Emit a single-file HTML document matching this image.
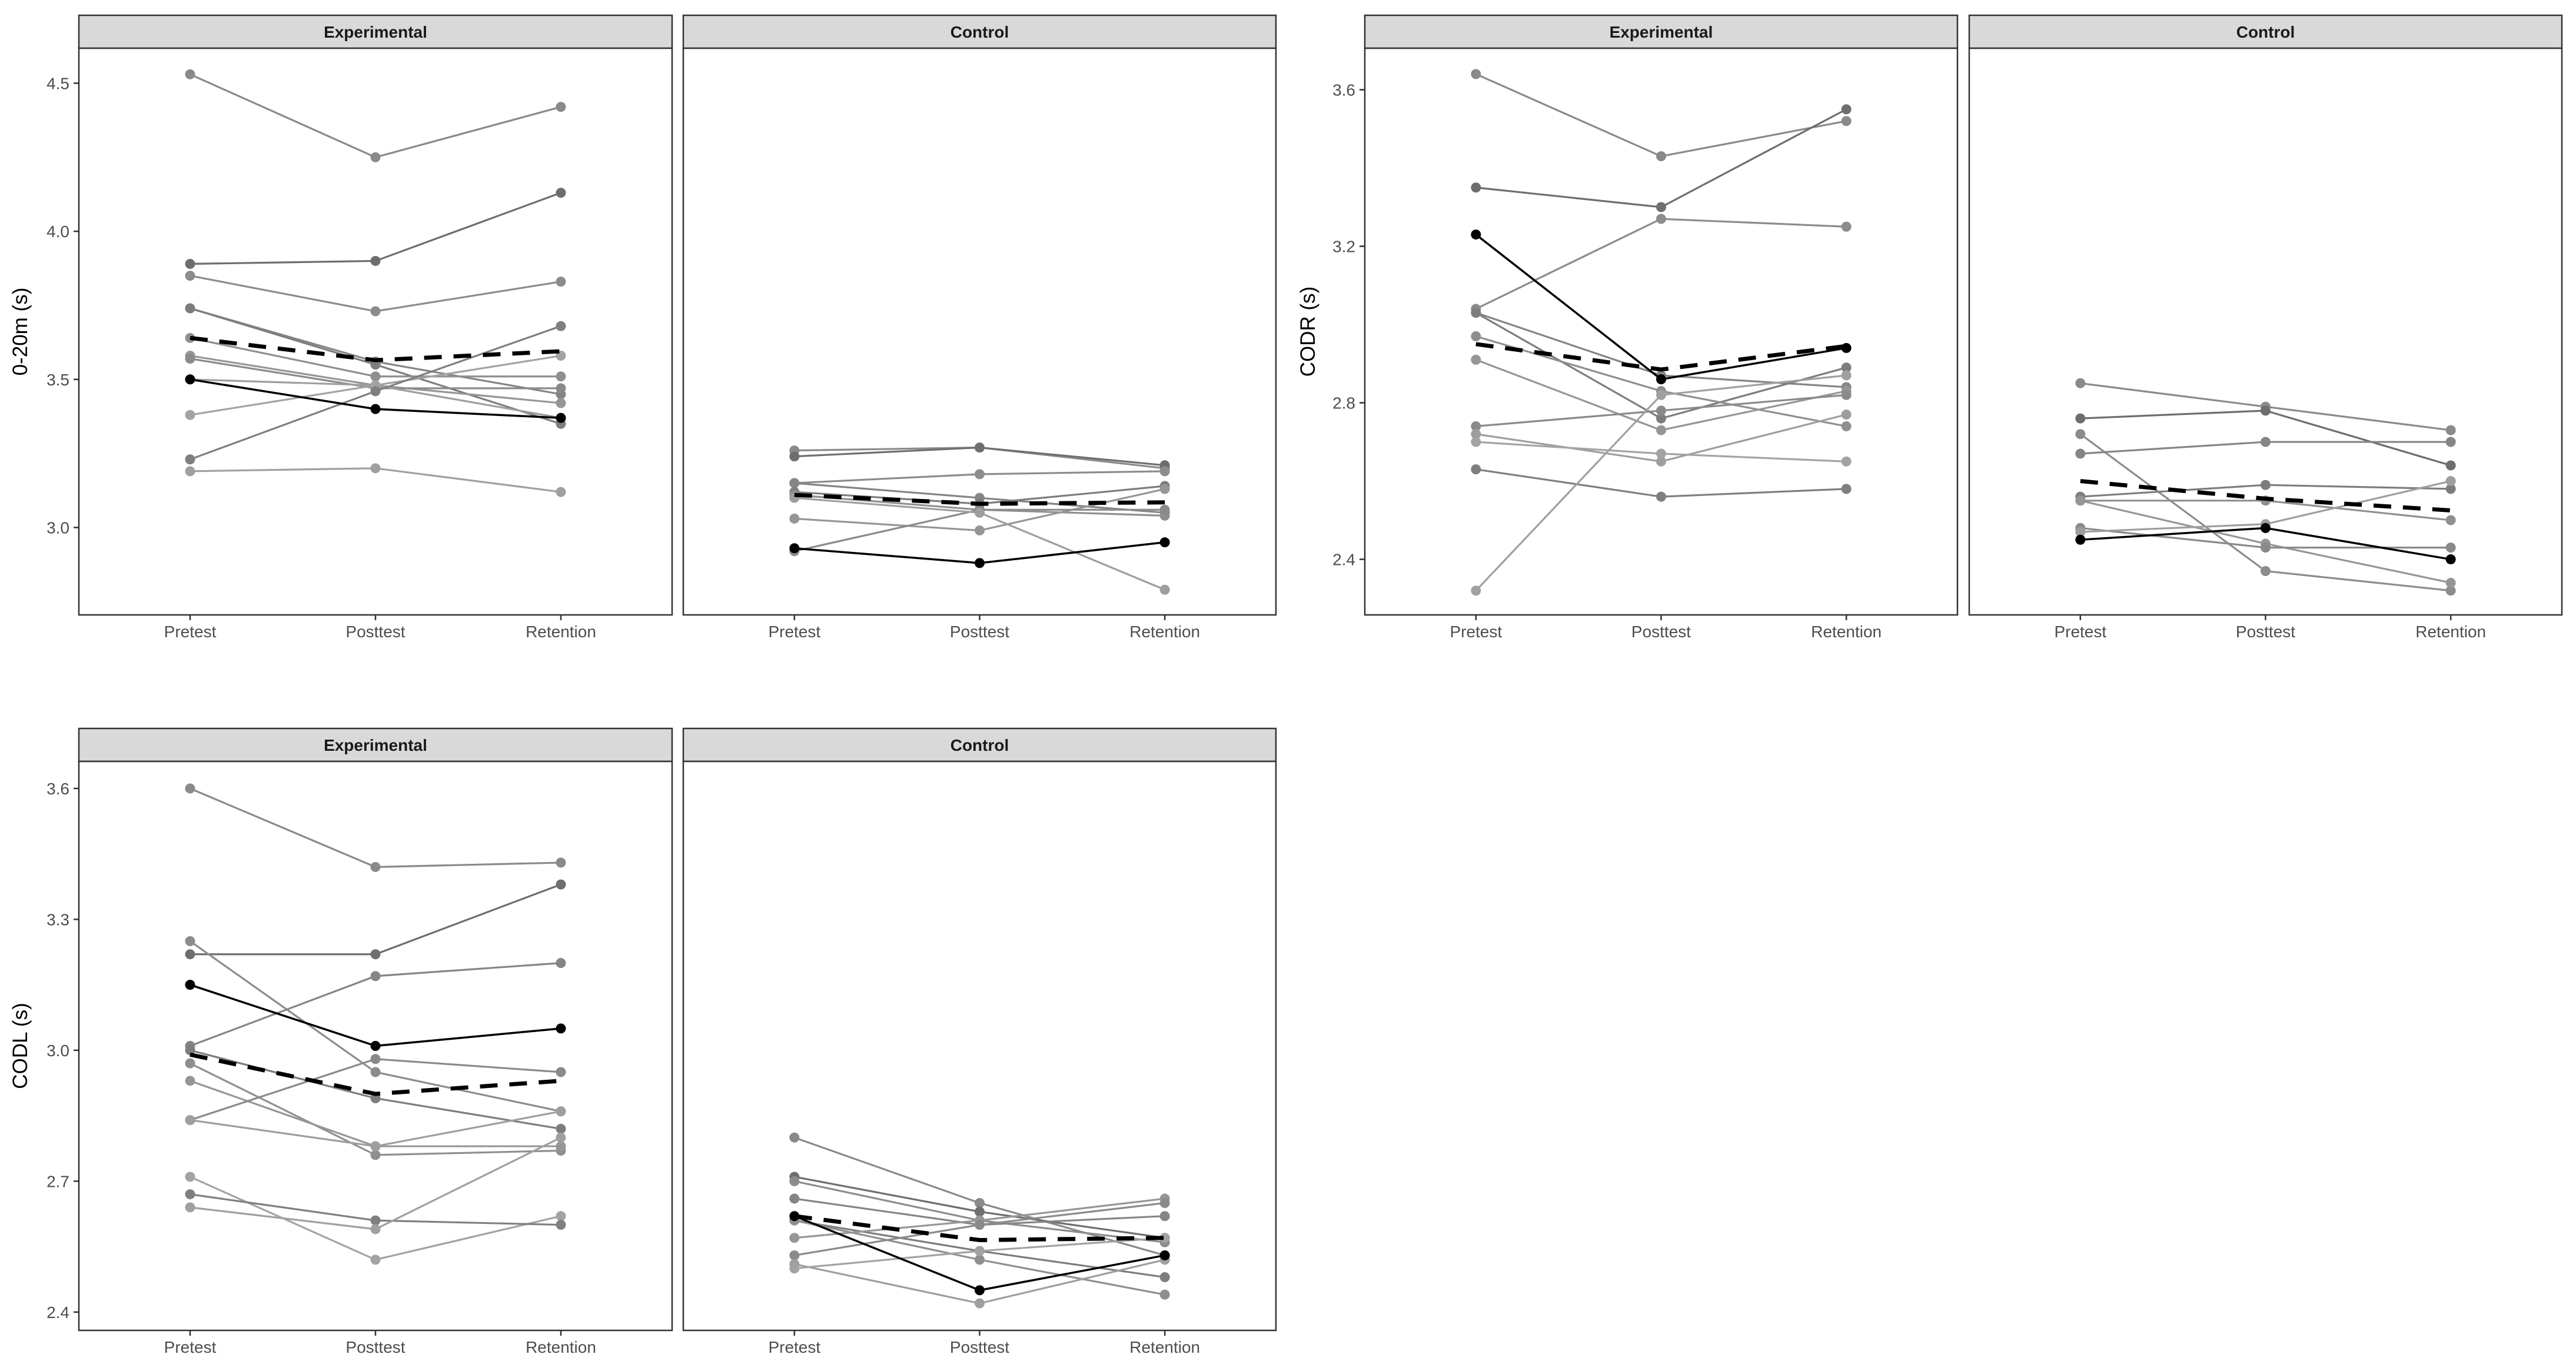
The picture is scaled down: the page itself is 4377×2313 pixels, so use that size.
<!DOCTYPE html>
<html><head><meta charset="utf-8"><style>
html,body{margin:0;padding:0;background:#fff;}
svg{display:block;font-family:"Liberation Sans",Arial,sans-serif;}
</style></head><body>
<svg id="fig" width="4377" height="2313" viewBox="0 0 4377 2313" xmlns="http://www.w3.org/2000/svg"></svg>
<script>
const categories = ["Pretest","Posttest","Retention"];
// 0-20m
const sprintExp = [[4.53,4.25,4.42],[3.89,3.90,4.13],[3.85,3.73,3.83],[3.74,3.56,3.45],[3.74,3.55,3.35],[3.64,3.51,3.51],[3.58,3.48,3.42],[3.57,3.47,3.47],[3.50,3.48,3.37],[3.38,3.48,3.58],[3.23,3.46,3.68],[3.19,3.20,3.12]];
const sprintExpHi = [3.50,3.40,3.37];
const sprintExpMean = [3.64,3.565,3.595];
const sprintCon = [[3.26,3.27,3.20],[3.24,3.27,3.21],[3.15,3.18,3.19],[3.15,3.10,3.05],[3.12,3.08,3.14],[3.11,3.06,3.04],[3.03,2.99,3.13],[2.92,3.06,3.06],[3.10,3.05,2.79]];
const sprintConHi = [2.93,2.88,2.95];
const sprintConMean = [3.11,3.08,3.085];
// CODR
const codrExp = [[3.64,3.43,3.52],[3.35,3.30,3.55],[3.04,3.27,3.25],[3.03,2.87,2.84],[3.03,2.76,2.89],[2.97,2.83,2.74],[2.91,2.73,2.83],[2.74,2.78,2.82],[2.72,2.65,2.77],[2.70,2.67,2.65],[2.63,2.56,2.58],[2.32,2.82,2.87]];
const codrExpHi = [3.23,2.86,2.94];
const codrExpMean = [2.95,2.885,2.945];
const codrCon = [[2.85,2.79,2.73],[2.76,2.78,2.64],[2.72,2.37,2.32],[2.67,2.70,2.70],[2.56,2.59,2.58],[2.55,2.55,2.50],[2.55,2.44,2.34],[2.48,2.43,2.43],[2.47,2.49,2.60]];
const codrConHi = [2.45,2.48,2.40];
const codrConMean = [2.60,2.555,2.525];
// CODL
const codlExp = [[3.60,3.42,3.43],[3.22,3.22,3.38],[3.25,2.95,2.86],[3.01,3.17,3.20],[3.00,2.89,2.82],[2.97,2.76,2.77],[2.93,2.78,2.78],[2.84,2.98,2.95],[2.84,2.78,2.86],[2.71,2.52,2.62],[2.67,2.61,2.60],[2.64,2.59,2.80]];
const codlExpHi = [3.15,3.01,3.05];
const codlExpMean = [2.99,2.90,2.93];
const codlCon = [[2.80,2.65,2.53],[2.71,2.63,2.57],[2.70,2.61,2.56],[2.66,2.60,2.62],[2.61,2.54,2.48],[2.61,2.52,2.44],[2.57,2.61,2.66],[2.53,2.60,2.65],[2.51,2.42,2.52],[2.50,2.54,2.57]];
const codlConHi = [2.62,2.45,2.53];
const codlConMean = [2.62,2.565,2.57];

const sprintTicks = [3.0,3.5,4.0,4.5];
const codrTicks = [2.4,2.8,3.2,3.6];
const codlTicks = [2.4,2.7,3.0,3.3,3.6];

const grays = ["#8a8a8a","#6e6e6e","#8c8c8c","#858585","#7d7d7d","#8f8f8f","#969696","#8a8a8a","#9e9e9e","#a3a3a3","#7f7f7f","#a0a0a0"];
const NS="http://www.w3.org/2000/svg";
const svg=document.getElementById('fig');
function mk(tag,attrs,parent){const e=document.createElementNS(NS,tag);for(const k in attrs)e.setAttribute(k,attrs[k]);(parent||svg).appendChild(e);return e;}

function facet(x0,x1,yTop,yBot,label,dom,ticks,series,hi,mean,showY,yTitle,titleX,name){
  const g=mk('g',{});
  
  
  const pTop=yTop+56;
  const strip=mk('rect',{x:x0,y:yTop,width:x1-x0,height:56,fill:'#d9d9d9',stroke:'#333',"stroke-width":2.5},g);
  
  
  const st=mk('text',{x:(x0+x1)/2,y:yTop+38,"text-anchor":"middle","font-size":28,"font-weight":"bold",fill:"#1a1a1a"},g);
  st.textContent=label;
  
  
  const W=x1-x0;
  const xs=i=>x0+W*(0.1875+0.3125*i);
  const ys=v=>yBot-(v-dom[0])/(dom[1]-dom[0])*(yBot-pTop);
  mk('rect',{x:x0,y:pTop,width:W,height:yBot-pTop,fill:'#fff',stroke:'#333',"stroke-width":2.5},g);
  categories.forEach((c,i)=>{
    mk('line',{x1:xs(i),x2:xs(i),y1:yBot,y2:yBot+9,stroke:'#333',"stroke-width":2.5},g);
    const t=mk('text',{x:xs(i),y:yBot+38,"text-anchor":"middle","font-size":28,fill:"#4d4d4d"},g);
    t.textContent=c;
    
    
  });
  if(showY){
    ticks.forEach(v=>{
      mk('line',{x1:x0-9,x2:x0,y1:ys(v),y2:ys(v),stroke:'#333',"stroke-width":2.5},g);
      const t=mk('text',{x:x0-16,y:ys(v)+10,"text-anchor":"end","font-size":28,fill:"#4d4d4d"},g);
      t.textContent=v.toFixed(1);
      
      
    });
    const yt=mk('text',{x:titleX,y:(pTop+yBot)/2,"text-anchor":"middle","font-size":35,fill:"#000",transform:`rotate(-90 ${titleX} ${(pTop+yBot)/2})`},g);
    yt.textContent=yTitle;
    
    
  }
  function drawLine(vals,col,w,dash,pts,nm){
    const d=vals.map((v,i)=>(i?'L':'M')+xs(i)+' '+ys(v)).join(' ');
    const p=mk('path',{d:d,fill:'none',stroke:col,"stroke-width":w},g);
    if(dash)p.setAttribute('stroke-dasharray',dash);
    
    
    if(pts)vals.forEach((v,i)=>{
      const c=mk('circle',{cx:xs(i),cy:ys(v),r:8.5,fill:col},g);
      
      
    });
  }
  series.forEach((s,k)=>drawLine(s,grays[k%grays.length],3.2,null,true,'participant-line'));
  drawLine(hi,'#000',3.5,null,true,'highlight-participant-line');
  drawLine(mean,'#000',7,'30 20',false,'group-mean-line');
}
const topY=26,topB=1045,botY=1238,botB=2261;
const P=[[134,1142],[1161,2168],[2319,3326],[3346,4353]];
const sd=[2.705,4.618],rd=[2.258,3.706],ld=[2.358,3.662];
facet(P[0][0],P[0][1],topY,topB,"Experimental",sd,sprintTicks,sprintExp,sprintExpHi,sprintExpMean,true,"0-20m (s)",46,"sprint-experimental");
facet(P[1][0],P[1][1],topY,topB,"Control",sd,sprintTicks,sprintCon,sprintConHi,sprintConMean,false,"",0,"sprint-control");
facet(P[2][0],P[2][1],topY,topB,"Experimental",rd,codrTicks,codrExp,codrExpHi,codrExpMean,true,"CODR (s)",2234,"codr-experimental");
facet(P[3][0],P[3][1],topY,topB,"Control",rd,codrTicks,codrCon,codrConHi,codrConMean,false,"",0,"codr-control");
facet(P[0][0],P[0][1],botY,botB,"Experimental",ld,codlTicks,codlExp,codlExpHi,codlExpMean,true,"CODL (s)",46,"codl-experimental");
facet(P[1][0],P[1][1],botY,botB,"Control",ld,codlTicks,codlCon,codlConHi,codlConMean,false,"",0,"codl-control");
</script>
</body></html>
